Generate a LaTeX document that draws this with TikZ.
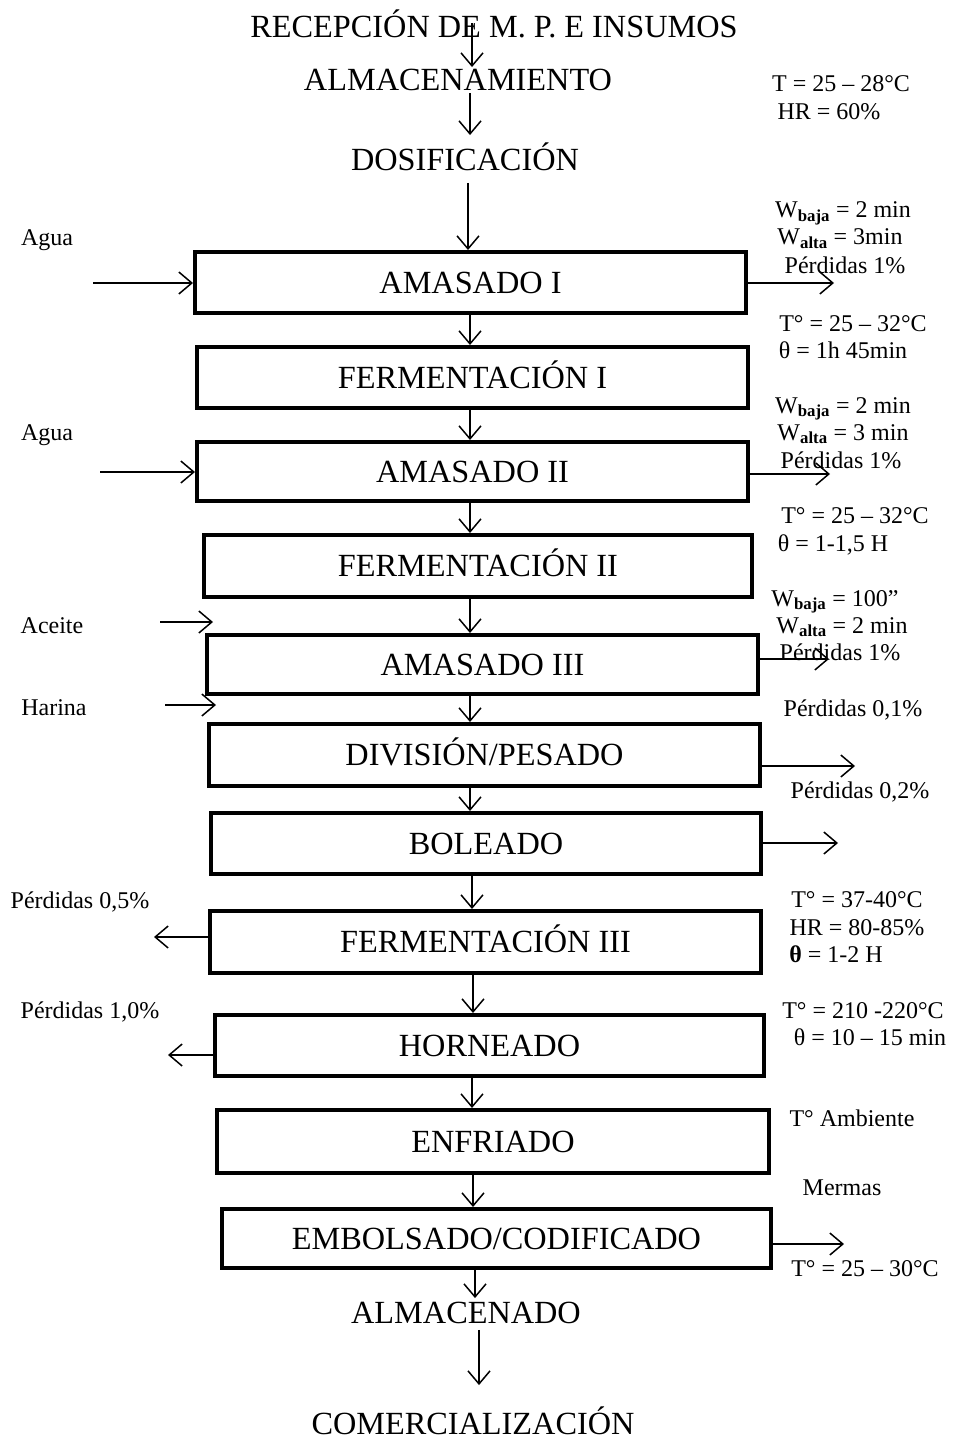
\documentclass[tikz,border=0pt]{standalone}
\usepackage{fontspec}
\setmainfont{Liberation Serif}
\usetikzlibrary{arrows.meta}
\begin{document}
\begin{tikzpicture}[x=1pt,y=-1pt,
  big/.style={font=\fontsize{32.3}{38}\selectfont, inner sep=0pt, text height=21.5pt, text depth=0pt},
  small/.style={font=\fontsize{24}{28}\selectfont, inner sep=0pt, anchor=base},
  box/.style={big, draw, line width=4pt, minimum width=551pt, minimum height=61pt},
  arr/.style={line width=1.5pt, -{Straight Barb[length=13pt,width=22pt]}}]
\fill[white] (0,0) rectangle (964,1439);
\useasboundingbox (0,0) rectangle (964,1439);

% top labels
\node[big] (recep) at (494,27) {RECEPCIÓN DE M. P. E INSUMOS};
\node[big] (almac) at (458,80) {ALMACENAMIENTO};
\node[big] (dosif) at (465,160) {DOSIFICACIÓN};

% boxes
\node[box, minimum height=61pt] (b1) at (470.5,282.5) {AMASADO I};
\node[box, minimum height=61pt] (b2) at (472.5,377.5) {FERMENTACIÓN I};
\node[box, minimum height=59pt] (b3) at (472.5,471.5) {AMASADO II};
\node[box, minimum width=548pt, minimum height=62pt] (b4) at (478,566) {FERMENTACIÓN II};
\node[box, minimum height=59pt] (b5) at (482.5,664.5) {AMASADO III};
\node[box, minimum height=62pt] (b6) at (484.5,755) {DIVISIÓN/PESADO};
\node[box, minimum width=550pt, minimum height=61pt] (b7) at (486,843.5) {BOLEADO};
\node[box, minimum height=62pt] (b8) at (485.5,942) {FERMENTACIÓN III};
\node[box, minimum width=549pt, minimum height=61pt] (b9) at (489.5,1045.5) {HORNEADO};
\node[box, minimum width=552pt, minimum height=63pt] (b10) at (493,1141.5) {ENFRIADO};
\node[box, minimum width=549pt, minimum height=59pt] (b11) at (496.5,1238.5) {EMBOLSADO/CODIFICADO};

% bottom labels
\node[big] (almdo) at (466,1313) {ALMACENADO};
\node[big] (comer) at (473,1424) {COMERCIALIZACIÓN};

% main vertical arrows
\coordinate (xa) at (472,0);
\coordinate (xb) at (470,0);
\coordinate (xc) at (468,0);
\draw[arr] ([yshift=-7pt]recep.north -| xa) -- ([yshift=2pt]almac.north -| xa);
\draw[arr, shorten <=2pt, shorten >=14pt] (almac.south -| xb) -- (dosif.north -| xb);
\draw[arr, shorten <=12pt] (dosif.south -| xc) -- (b1.north -| xc);
\draw[arr] (b1.south -| xb) -- (b2.north -| xb);
\draw[arr] (b2.south -| xb) -- (b3.north -| xb);
\draw[arr] (b3.south -| xb) -- (b4.north -| xb);
\draw[arr] (b4.south -| xb) -- (b5.north -| xb);
\draw[arr] (b5.south -| xb) -- (b6.north -| xb);
\draw[arr] (b6.south -| xb) -- (b7.north -| xb);
\coordinate (xd) at (472,0);
\coordinate (xe) at (473,0);
\coordinate (xf) at (475,0);
\coordinate (xg) at (479,0);
\draw[arr] (b7.south -| xd) -- (b8.north -| xd);
\draw[arr] (b8.south -| xe) -- (b9.north -| xe);
\draw[arr] (b9.south -| xd) -- (b10.north -| xd);
\draw[arr] (b10.south -| xe) -- (b11.north -| xe);
\draw[arr, shorten >=4pt] (b11.south -| xf) -- (almdo.north -| xf);
\draw[arr, shorten <=6pt, shorten >=28pt] (almdo.south -| xg) -- (comer.north -| xg);

% left inputs
\node[small] (agua1) at (47,246) {Agua};
\node[small] (agua2) at (47,440) {Agua};
\node[small] (aceite) at (52,633) {Aceite};
\node[small] (harina) at (54,715) {Harina};
\coordinate (i1) at (93,283);
\coordinate (i2) at (100,472);
\coordinate (i3) at (160,622);
\coordinate (i3e) at (213,622);
\coordinate (i4) at (165,705);
\coordinate (i4e) at (216,705);
\draw[arr] (i1) -- (i1 -| b1.west);
\draw[arr] (i2) -- (i2 -| b3.west);
\draw[arr] (i3) -- (i3e);
\draw[arr] (i4) -- (i4e);

% left losses
\node[small] (p05) at (80,908) {Pérdidas 0,5\%};
\node[small] (p10) at (90,1018) {Pérdidas 1,0\%};
\coordinate (l1) at (154,937);
\coordinate (l2) at (168,1055);
\draw[arr] (l1 -| b8.west) -- (l1);
\draw[arr] (l2 -| b9.west) -- (l2);

% right outputs
\coordinate (o1) at (834,283);
\coordinate (o3) at (830,474);
\coordinate (o5) at (829,659);
\coordinate (o6) at (855,766);
\coordinate (o7) at (838,843);
\coordinate (o11) at (844,1244);
\draw[arr] (o1 -| b1.east) -- (o1);
\draw[arr] (o3 -| b3.east) -- (o3);
\draw[arr] (o5 -| b5.east) -- (o5);
\draw[arr] (o6 -| b6.east) -- (o6);
\draw[arr] (o7 -| b7.east) -- (o7);
\draw[arr] (o11 -| b11.east) -- (o11);

% right texts
\node[small] (r1) at (841,92) {T = 25 – 28°C};
\node[small] (r2) at (829,120) {HR = 60\%};
\node[small] (r3) at (843,218) {W\textsubscript{\textbf{baja}} = 2 min};
\node[small] (r4) at (840,245) {W\textsubscript{\textbf{alta}} = 3min};
\node[small] (r5) at (845,273) {Pérdidas 1\%};
\node[small] (r6) at (853,331) {T° = 25 – 32°C};
\node[small] (r7) at (843,358) {θ = 1h 45min};
\node[small] (r8) at (843,413) {W\textsubscript{\textbf{baja}} = 2 min};
\node[small] (r9) at (843,440) {W\textsubscript{\textbf{alta}} = 3 min};
\node[small] (r10) at (841,468) {Pérdidas 1\%};
\node[small] (r11) at (855,523) {T° = 25 – 32°C};
\node[small] (r12) at (833,551) {θ = 1-1,5 H};
\node[small] (r13) at (835,606) {W\textsubscript{\textbf{baja}} = 100”};
\node[small] (r14) at (842,633) {W\textsubscript{\textbf{alta}} = 2 min};
\node[small] (r15) at (840,660) {Pérdidas 1\%};
\node[small] (r16) at (853,716) {Pérdidas 0,1\%};
\node[small] (r17) at (860,798) {Pérdidas 0,2\%};
\node[small] (r18) at (857,907) {T° = 37-40°C};
\node[small] (r19) at (857,935) {HR = 80-85\%};
\node[small] (r20) at (836,962) {\textbf{θ} = 1-2 H};
\node[small] (r21) at (863,1018) {T° = 210 -220°C};
\node[small] (r22) at (870,1045) {θ = 10 – 15 min};
\node[small] (r23) at (852,1126) {T° Ambiente};
\node[small] (r24) at (842,1195) {Mermas};
\node[small] (r25) at (865,1276) {T° = 25 – 30°C};
\end{tikzpicture}
\end{document}
